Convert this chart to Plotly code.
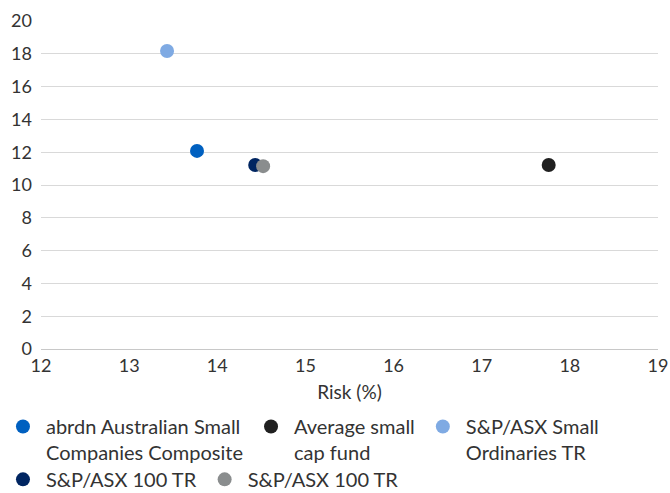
import plotly.graph_objects as go

names = [
    "abrdn Australian Small<br>Companies Composite",
    "Average small<br>cap fund",
    "S&P/ASX Small<br>Ordinaries TR",
    "S&P/ASX 100 TR",
    "S&P/ASX 100 TR",
]
risk = [13.77, 17.76, 13.43, 14.43, 14.52]
ret = [12.08, 11.22, 18.17, 11.22, 11.15]
colors = ["#0060C0", "#202020", "#7FAAE3", "#002561", "#8A8D8E"]
legend_rows = ["legend", "legend", "legend", "legend2", "legend2"]

x_ticks = [12, 13, 14, 15, 16, 17, 18, 19]
y_ticks = [0, 2, 4, 6, 8, 10, 12, 14, 16, 18, 20]

font_family = "Lato, 'Noto Sans', sans-serif"

fig = go.Figure()
for n, xv, yv, c, lg in zip(names, risk, ret, colors, legend_rows):
    fig.add_trace(go.Scatter(
        x=[xv], y=[yv], mode="markers", name=n, legend=lg,
        marker=dict(size=14, color=c, line=dict(width=0)),
    ))

legend_common = dict(
    orientation="h", x=-0.0665, xanchor="left", yanchor="top",
    valign="top", font=dict(size=20, color="#333333", family=font_family),
    itemsizing="trace", tracegroupgap=0, itemwidth=36,
    bgcolor="rgba(0,0,0,0)",
)

fig.update_layout(
    width=670, height=493,
    margin=dict(l=41, r=12, t=21, b=144, autoexpand=False),
    paper_bgcolor="white", plot_bgcolor="white",
    font=dict(family=font_family, size=19, color="#333333"),
    showlegend=True,
    legend=dict(y=-0.177, **legend_common),
    legend2=dict(y=-0.338, **legend_common),
    xaxis=dict(
        range=[12, 19], tickvals=x_ticks, showgrid=False, zeroline=False,
        showline=False, ticks="", tickfont=dict(size=18), automargin=False,
        ticklabelstandoff=4,
        title=dict(text="Risk (%)", font=dict(size=19), standoff=10),
    ),
    yaxis=dict(
        range=[0, 20], tickvals=y_ticks, showgrid=True, gridcolor="#d9d9d9",
        gridwidth=1, zeroline=True, zerolinecolor="#c8c8c8", zerolinewidth=1,
        showline=False, ticks="", tickfont=dict(size=18), automargin=False,
        ticklabelstandoff=8,
    ),
)

fig.write_html("out.html")
